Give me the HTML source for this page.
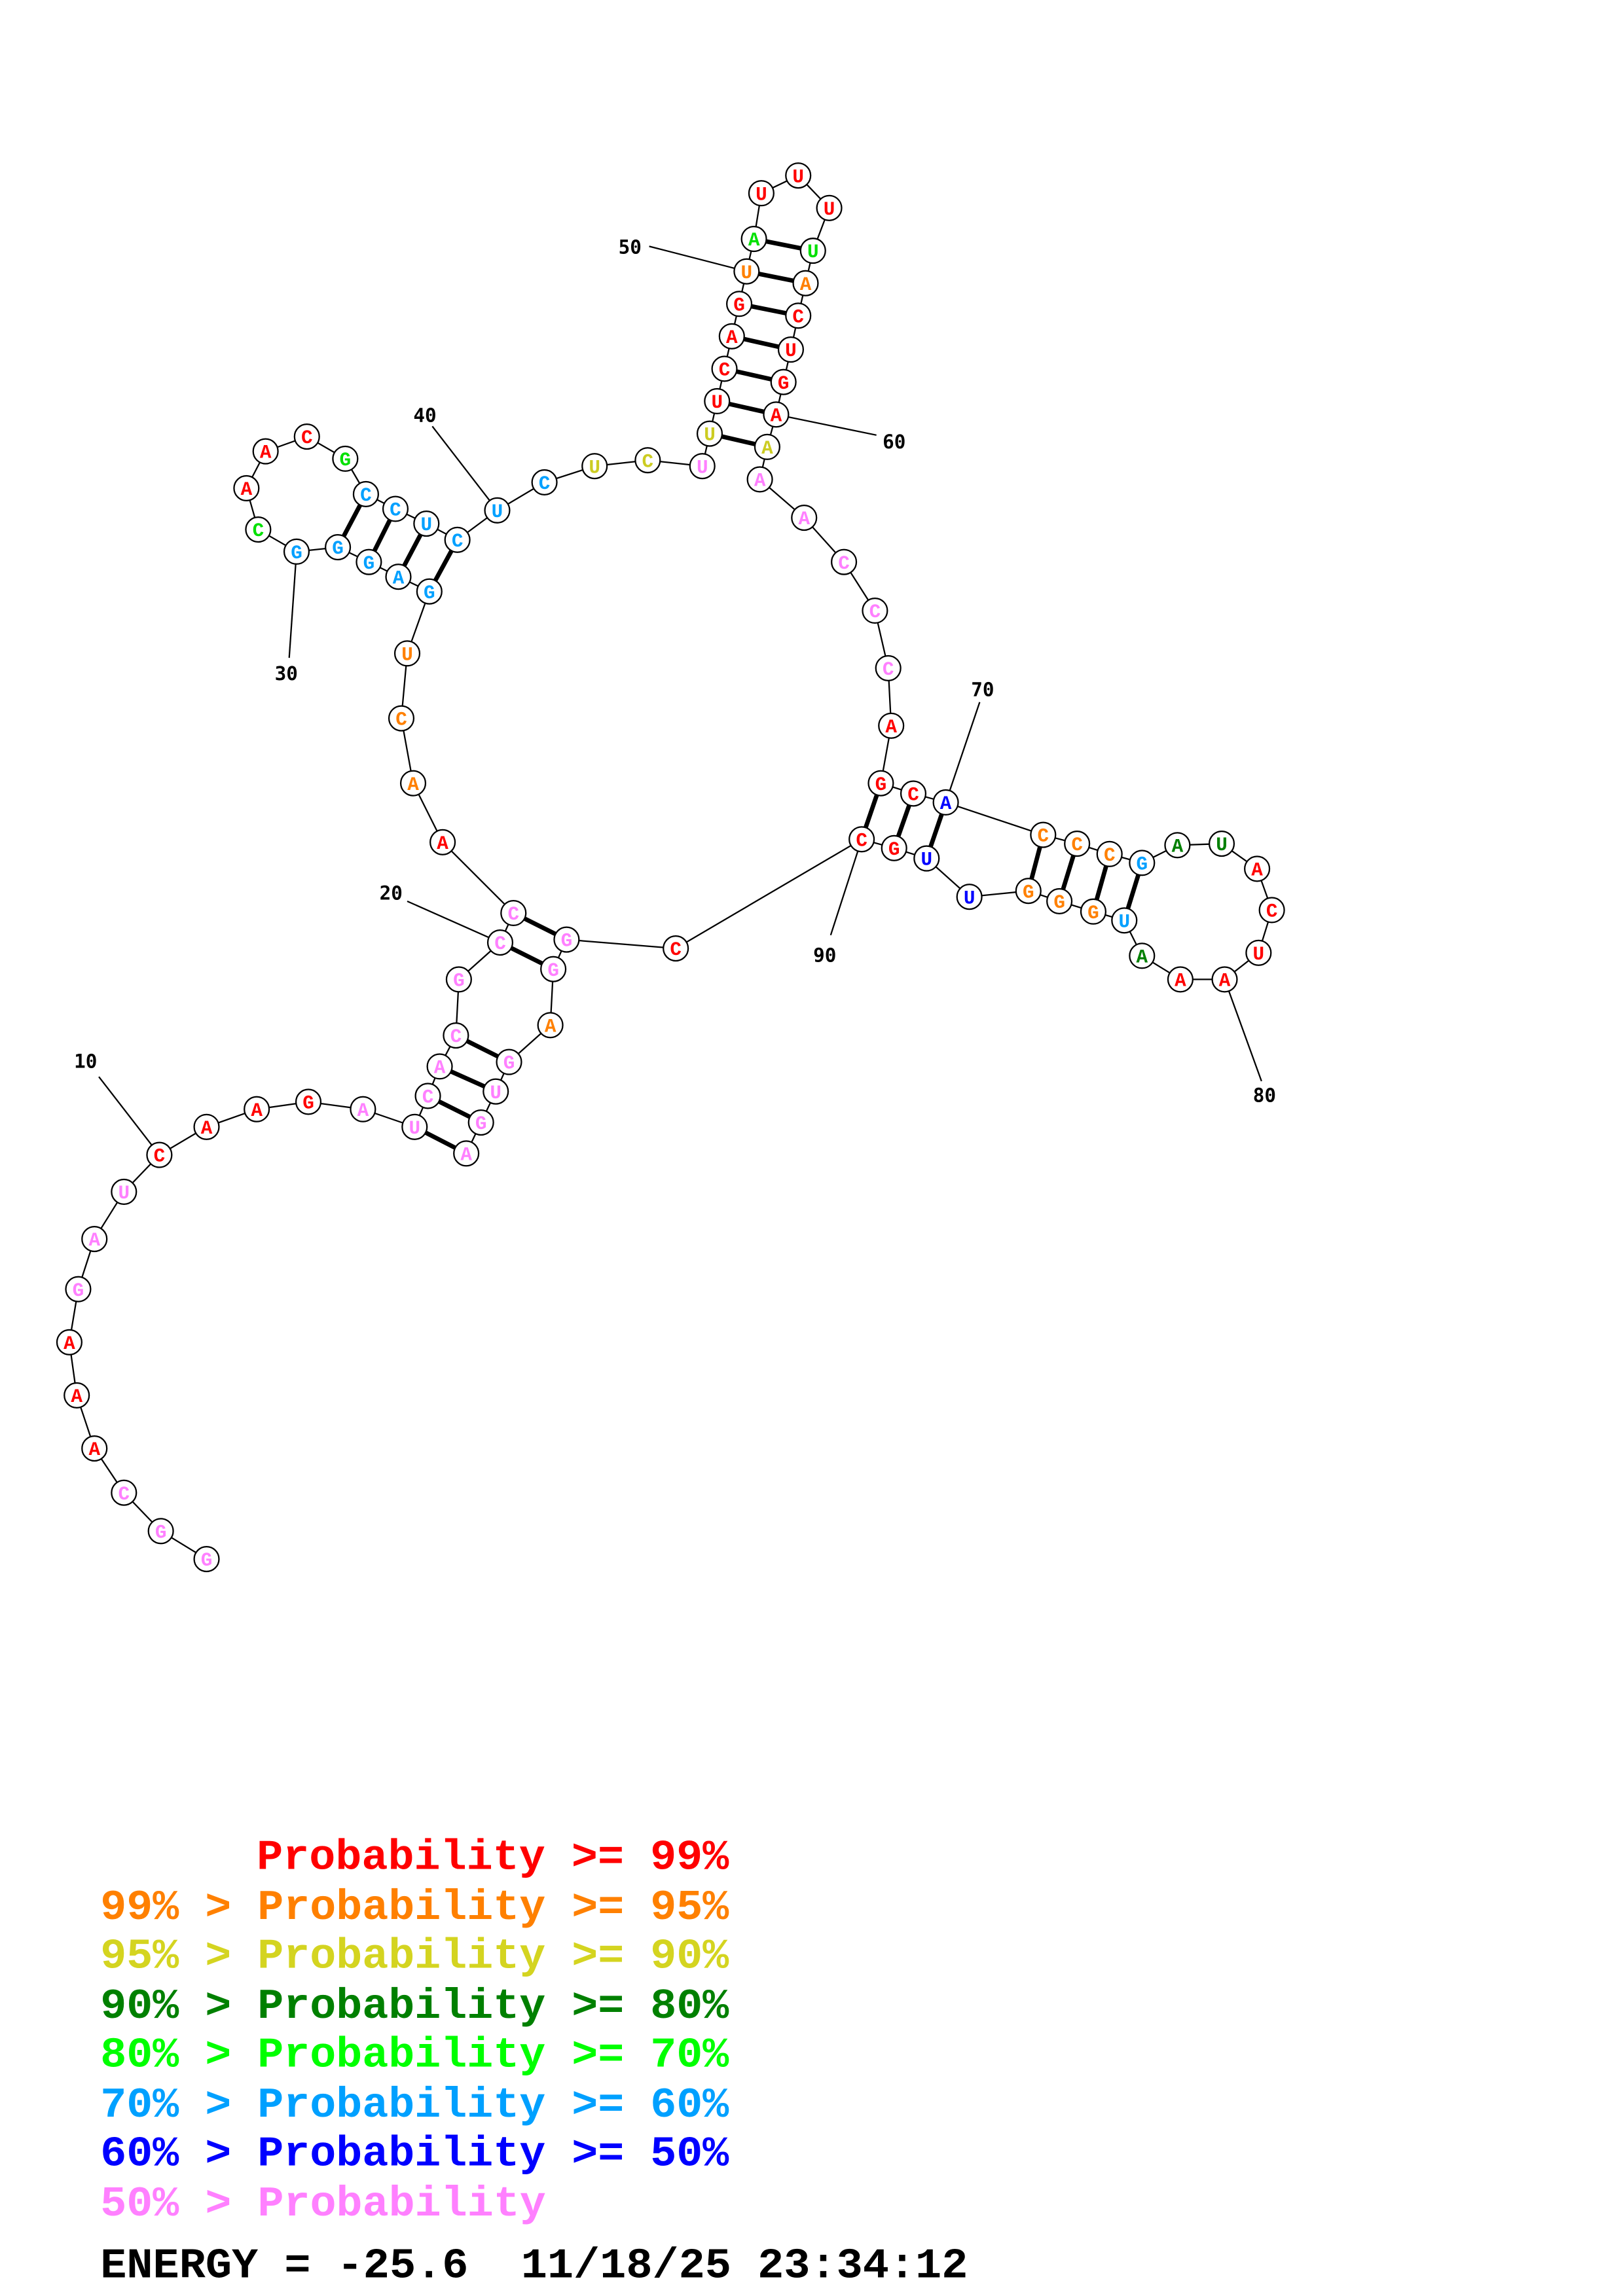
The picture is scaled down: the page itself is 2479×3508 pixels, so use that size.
<!DOCTYPE html>
<html><head><meta charset="utf-8"><style>html,body{margin:0;padding:0;background:#fff}svg{display:block}text{white-space:pre}</style></head>
<body>
<svg xmlns="http://www.w3.org/2000/svg" width="2479" height="3508" viewBox="0 0 1100 1556.6" preserveAspectRatio="none">
<rect width="1100" height="1557" fill="#fff"/>
<g stroke="#000" stroke-width="1" fill="none">
<polyline points="140,1057 109,1038 84,1012 64,982 52,946 47,910 53,874 64,840 84,808 108,783 140,764 174,752 209,747 246,752 281,764 290,743 298,723 309,702 311,664 339,639 348,619 300,571 280,531 272,487 276,443 291,401 270,391 250,381 229,371 201,374 175,359 167,331 180,306 208,296 234,311 248,335 268,345 289,355 310,366 337,346 369,327 403,316 439,312 476,316 481,294 486,272 491,250 496,228 501,206 506,184 511,162 516,131 541,119 562,141 551,170 546,192 541,214 536,237 531,259 526,281 520,303 515,325 545,351 572,381 593,414 602,453 604,492 597,531 619,538 641,544 707,566 730,572 752,579 774,585 798,573 828,572 852,589 862,617 853,646 830,664 800,664 774,648 762,624 741,618 718,611 697,604 657,608 628,582 606,575 584,569 458,643 384,637 375,657 373,695 345,720 336,740 326,761 316,782"/>
<line x1="67" y1="730" x2="108" y2="783"/>
<line x1="276" y1="611" x2="339" y2="639"/>
<line x1="196" y1="446" x2="201" y2="374"/>
<line x1="293" y1="289" x2="337" y2="346"/>
<line x1="440" y1="167" x2="506" y2="184"/>
<line x1="526" y1="281" x2="594" y2="295"/>
<line x1="664" y1="476" x2="641" y2="544"/>
<line x1="830" y1="664" x2="855" y2="733"/>
<line x1="584" y1="569" x2="563" y2="634"/>
</g>
<g stroke="#000" stroke-width="3">
<line x1="281" y1="764" x2="316" y2="782"/><line x1="290" y1="743" x2="326" y2="761"/><line x1="298" y1="723" x2="336" y2="740"/><line x1="309" y1="702" x2="345" y2="720"/>
<line x1="339" y1="639" x2="375" y2="657"/><line x1="348" y1="619" x2="384" y2="637"/>
<line x1="291" y1="401" x2="310" y2="366"/><line x1="270" y1="391" x2="289" y2="355"/><line x1="250" y1="381" x2="268" y2="345"/><line x1="229" y1="371" x2="248" y2="335"/>
<line x1="481" y1="294" x2="520" y2="303"/><line x1="486" y1="272" x2="526" y2="281"/><line x1="491" y1="250" x2="531" y2="259"/><line x1="496" y1="228" x2="536" y2="237"/><line x1="501" y1="206" x2="541" y2="214"/><line x1="506" y1="184" x2="546" y2="192"/><line x1="511" y1="162" x2="551" y2="170"/>
<line x1="597" y1="531" x2="584" y2="569"/><line x1="619" y1="538" x2="606" y2="575"/><line x1="641" y1="544" x2="628" y2="582"/>
<line x1="707" y1="566" x2="697" y2="604"/><line x1="730" y1="572" x2="718" y2="611"/><line x1="752" y1="579" x2="741" y2="618"/><line x1="774" y1="585" x2="762" y2="624"/>
</g>
<g fill="#fff" stroke="#000" stroke-width="1">
<circle cx="140" cy="1057" r="8.4"/><circle cx="109" cy="1038" r="8.4"/><circle cx="84" cy="1012" r="8.4"/><circle cx="64" cy="982" r="8.4"/><circle cx="52" cy="946" r="8.4"/><circle cx="47" cy="910" r="8.4"/><circle cx="53" cy="874" r="8.4"/><circle cx="64" cy="840" r="8.4"/><circle cx="84" cy="808" r="8.4"/><circle cx="108" cy="783" r="8.4"/>
<circle cx="140" cy="764" r="8.4"/><circle cx="174" cy="752" r="8.4"/><circle cx="209" cy="747" r="8.4"/><circle cx="246" cy="752" r="8.4"/><circle cx="281" cy="764" r="8.4"/><circle cx="290" cy="743" r="8.4"/><circle cx="298" cy="723" r="8.4"/><circle cx="309" cy="702" r="8.4"/><circle cx="311" cy="664" r="8.4"/><circle cx="339" cy="639" r="8.4"/>
<circle cx="348" cy="619" r="8.4"/><circle cx="300" cy="571" r="8.4"/><circle cx="280" cy="531" r="8.4"/><circle cx="272" cy="487" r="8.4"/><circle cx="276" cy="443" r="8.4"/><circle cx="291" cy="401" r="8.4"/><circle cx="270" cy="391" r="8.4"/><circle cx="250" cy="381" r="8.4"/><circle cx="229" cy="371" r="8.4"/><circle cx="201" cy="374" r="8.4"/>
<circle cx="175" cy="359" r="8.4"/><circle cx="167" cy="331" r="8.4"/><circle cx="180" cy="306" r="8.4"/><circle cx="208" cy="296" r="8.4"/><circle cx="234" cy="311" r="8.4"/><circle cx="248" cy="335" r="8.4"/><circle cx="268" cy="345" r="8.4"/><circle cx="289" cy="355" r="8.4"/><circle cx="310" cy="366" r="8.4"/><circle cx="337" cy="346" r="8.4"/>
<circle cx="369" cy="327" r="8.4"/><circle cx="403" cy="316" r="8.4"/><circle cx="439" cy="312" r="8.4"/><circle cx="476" cy="316" r="8.4"/><circle cx="481" cy="294" r="8.4"/><circle cx="486" cy="272" r="8.4"/><circle cx="491" cy="250" r="8.4"/><circle cx="496" cy="228" r="8.4"/><circle cx="501" cy="206" r="8.4"/><circle cx="506" cy="184" r="8.4"/>
<circle cx="511" cy="162" r="8.4"/><circle cx="516" cy="131" r="8.4"/><circle cx="541" cy="119" r="8.4"/><circle cx="562" cy="141" r="8.4"/><circle cx="551" cy="170" r="8.4"/><circle cx="546" cy="192" r="8.4"/><circle cx="541" cy="214" r="8.4"/><circle cx="536" cy="237" r="8.4"/><circle cx="531" cy="259" r="8.4"/><circle cx="526" cy="281" r="8.4"/>
<circle cx="520" cy="303" r="8.4"/><circle cx="515" cy="325" r="8.4"/><circle cx="545" cy="351" r="8.4"/><circle cx="572" cy="381" r="8.4"/><circle cx="593" cy="414" r="8.4"/><circle cx="602" cy="453" r="8.4"/><circle cx="604" cy="492" r="8.4"/><circle cx="597" cy="531" r="8.4"/><circle cx="619" cy="538" r="8.4"/><circle cx="641" cy="544" r="8.4"/>
<circle cx="707" cy="566" r="8.4"/><circle cx="730" cy="572" r="8.4"/><circle cx="752" cy="579" r="8.4"/><circle cx="774" cy="585" r="8.4"/><circle cx="798" cy="573" r="8.4"/><circle cx="828" cy="572" r="8.4"/><circle cx="852" cy="589" r="8.4"/><circle cx="862" cy="617" r="8.4"/><circle cx="853" cy="646" r="8.4"/><circle cx="830" cy="664" r="8.4"/>
<circle cx="800" cy="664" r="8.4"/><circle cx="774" cy="648" r="8.4"/><circle cx="762" cy="624" r="8.4"/><circle cx="741" cy="618" r="8.4"/><circle cx="718" cy="611" r="8.4"/><circle cx="697" cy="604" r="8.4"/><circle cx="657" cy="608" r="8.4"/><circle cx="628" cy="582" r="8.4"/><circle cx="606" cy="575" r="8.4"/><circle cx="584" cy="569" r="8.4"/>
<circle cx="458" cy="643" r="8.4"/><circle cx="384" cy="637" r="8.4"/><circle cx="375" cy="657" r="8.4"/><circle cx="373" cy="695" r="8.4"/><circle cx="345" cy="720" r="8.4"/><circle cx="336" cy="740" r="8.4"/><circle cx="326" cy="761" r="8.4"/><circle cx="316" cy="782" r="8.4"/>
</g>
<g font-family="Liberation Mono, monospace" font-weight="bold" font-size="13" text-anchor="middle">
<g fill="#ff80ff"><text x="140" y="1061.5">G</text><text x="109" y="1042.5">G</text><text x="84" y="1016.5">C</text><text x="53" y="878.5">G</text><text x="64" y="844.5">A</text><text x="84" y="812.5">U</text><text x="246" y="756.5">A</text><text x="281" y="768.5">U</text><text x="290" y="747.5">C</text><text x="298" y="727.5">A</text><text x="309" y="706.5">C</text><text x="311" y="668.5">G</text><text x="339" y="643.5">C</text><text x="348" y="623.5">C</text><text x="476" y="320.5">U</text><text x="515" y="329.5">A</text><text x="545" y="355.5">A</text><text x="572" y="385.5">C</text><text x="593" y="418.5">C</text><text x="602" y="457.5">C</text><text x="384" y="641.5">G</text><text x="375" y="661.5">G</text><text x="345" y="724.5">G</text><text x="336" y="744.5">U</text><text x="326" y="765.5">G</text><text x="316" y="786.5">A</text></g>
<g fill="#ff0000"><text x="64" y="986.5">A</text><text x="52" y="950.5">A</text><text x="47" y="914.5">A</text><text x="108" y="787.5">C</text><text x="140" y="768.5">A</text><text x="174" y="756.5">A</text><text x="209" y="751.5">G</text><text x="300" y="575.5">A</text><text x="167" y="335.5">A</text><text x="180" y="310.5">A</text><text x="208" y="300.5">C</text><text x="486" y="276.5">U</text><text x="491" y="254.5">C</text><text x="496" y="232.5">A</text><text x="501" y="210.5">G</text><text x="516" y="135.5">U</text><text x="541" y="123.5">U</text><text x="562" y="145.5">U</text><text x="541" y="218.5">C</text><text x="536" y="241.5">U</text><text x="531" y="263.5">G</text><text x="526" y="285.5">A</text><text x="604" y="496.5">A</text><text x="597" y="535.5">G</text><text x="619" y="542.5">C</text><text x="852" y="593.5">A</text><text x="862" y="621.5">C</text><text x="853" y="650.5">U</text><text x="830" y="668.5">A</text><text x="800" y="668.5">A</text><text x="606" y="579.5">G</text><text x="584" y="573.5">C</text><text x="458" y="647.5">C</text></g>
<g fill="#ff8000"><text x="280" y="535.5">A</text><text x="272" y="491.5">C</text><text x="276" y="447.5">U</text><text x="506" y="188.5">U</text><text x="546" y="196.5">A</text><text x="707" y="570.5">C</text><text x="730" y="576.5">C</text><text x="752" y="583.5">C</text><text x="741" y="622.5">G</text><text x="718" y="615.5">G</text><text x="697" y="608.5">G</text><text x="373" y="699.5">A</text></g>
<g fill="#00a0ff"><text x="291" y="405.5">G</text><text x="270" y="395.5">A</text><text x="250" y="385.5">G</text><text x="229" y="375.5">G</text><text x="201" y="378.5">G</text><text x="248" y="339.5">C</text><text x="268" y="349.5">C</text><text x="289" y="359.5">U</text><text x="310" y="370.5">C</text><text x="337" y="350.5">U</text><text x="369" y="331.5">C</text><text x="774" y="589.5">G</text><text x="762" y="628.5">U</text></g>
<g fill="#00e000"><text x="175" y="363.5">C</text><text x="234" y="315.5">G</text><text x="511" y="166.5">A</text><text x="551" y="174.5">U</text></g>
<g fill="#cccc22"><text x="403" y="320.5">U</text><text x="439" y="316.5">C</text><text x="481" y="298.5">U</text><text x="520" y="307.5">A</text></g>
<g fill="#008000"><text x="798" y="577.5">A</text><text x="828" y="576.5">U</text><text x="774" y="652.5">A</text></g>
<g fill="#0000ff"><text x="641" y="548.5">A</text><text x="657" y="612.5">U</text><text x="628" y="586.5">U</text></g>
</g>
<g font-family="DejaVu Sans Mono, Liberation Mono, monospace" font-weight="bold" font-size="13" fill="#000" text-anchor="middle">
<text x="58" y="724">10</text><text x="265" y="610">20</text><text x="194" y="461">30</text><text x="288" y="286">40</text><text x="427" y="172">50</text><text x="606" y="304">60</text><text x="666" y="472">70</text><text x="857" y="747">80</text><text x="559" y="652">90</text>
</g>
<g font-family="Liberation Mono, monospace" font-weight="bold" font-size="29">
<text x="174" y="1267" fill="#ff0000" textLength="320" lengthAdjust="spacingAndGlyphs">Probability &gt;= 99%</text>
<text x="68" y="1301" fill="#ff8000" textLength="426" lengthAdjust="spacingAndGlyphs">99% &gt; Probability &gt;= 95%</text>
<text x="68" y="1334" fill="#d4d420" textLength="426" lengthAdjust="spacingAndGlyphs">95% &gt; Probability &gt;= 90%</text>
<text x="68" y="1368" fill="#008000" textLength="426" lengthAdjust="spacingAndGlyphs">90% &gt; Probability &gt;= 80%</text>
<text x="68" y="1401" fill="#00ff00" textLength="426" lengthAdjust="spacingAndGlyphs">80% &gt; Probability &gt;= 70%</text>
<text x="68" y="1435" fill="#00a0ff" textLength="426" lengthAdjust="spacingAndGlyphs">70% &gt; Probability &gt;= 60%</text>
<text x="68" y="1468" fill="#0000ff" textLength="426" lengthAdjust="spacingAndGlyphs">60% &gt; Probability &gt;= 50%</text>
<text x="68" y="1502" fill="#ff80ff" textLength="302" lengthAdjust="spacingAndGlyphs">50% &gt; Probability</text>
<text x="68" y="1544" fill="#000" textLength="588" lengthAdjust="spacingAndGlyphs">ENERGY = -25.6  11/18/25 23:34:12</text>
</g>
</svg>
</body></html>
